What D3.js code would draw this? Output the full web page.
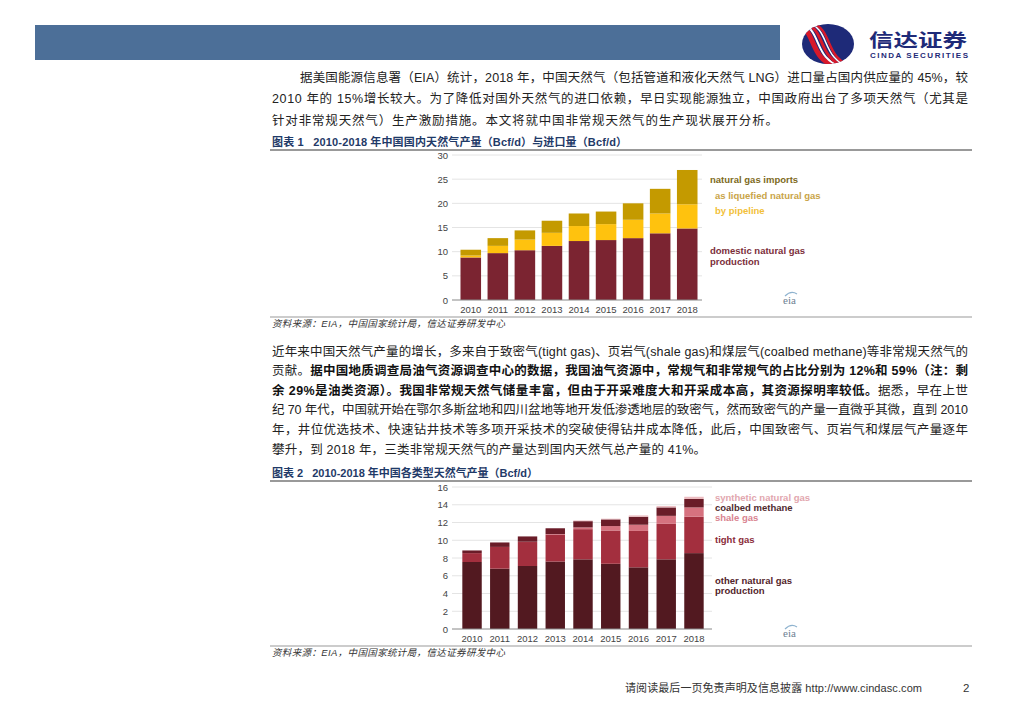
<!DOCTYPE html>
<html>
<head>
<meta charset="UTF-8">
<title></title>
<style>
  body { margin: 0; background: #fff; }
  svg text { font-family: "Liberation Sans", "Noto Sans CJK SC", sans-serif; }
  .para { font-size: 12.5px; fill: #222; }
  .bold { font-weight: bold; fill: #111; }
  .figtitle { font-size: 11px; font-weight: bold; fill: #1f3a68; white-space: pre; }
  .source { font-size: 9.5px; font-style: italic; fill: #333; }
  .tick text, .yr { font-family: "Liberation Sans Narrow", "Liberation Sans", sans-serif; font-size: 9.5px; fill: #444; }
  .leg { font-family: "Liberation Sans Narrow", "Liberation Sans", sans-serif; font-size: 9.5px; font-weight: bold; }
</style>
</head>
<body>
<div id="page"></div>
<script src="https://d3js.org/d3.v7.min.js"></script>
<script>
// chart 1: domestic production and imports, Bcf/d
var years = ['2010', '2011', '2012', '2013', '2014', '2015', '2016', '2017', '2018'];
var domestic = [8.8, 9.7, 10.3, 11.2, 12.2, 12.4, 12.8, 13.8, 14.8];
var pipeline = [0.4, 1.5, 2.2, 2.7, 3.1, 3.3, 3.8, 4.1, 5.0];
var lng = [1.2, 1.6, 1.9, 2.5, 2.6, 2.6, 3.4, 5.1, 7.1];
var ticks1 = [0, 5, 10, 15, 20, 25, 30];

// chart 2: production by type, Bcf/d
var other = [7.55, 6.8, 7.1, 7.6, 7.85, 7.35, 6.95, 7.85, 8.55];
var tight = [1.0, 2.45, 2.7, 3.05, 3.4, 3.75, 4.1, 4.0, 4.1];
var shale = [0, 0, 0.03, 0.05, 0.2, 0.5, 0.7, 0.9, 1.05];
var coalbed = [0.3, 0.5, 0.6, 0.65, 0.7, 0.75, 0.9, 0.95, 0.95];
var synthetic = [0, 0, 0, 0, 0.08, 0.08, 0.15, 0.15, 0.25];
var ticks2 = [0, 2, 4, 6, 8, 10, 12, 14, 16];

var svg = d3.select('#page').append('svg')
    .attr('width', 1024)
    .attr('height', 724);

// header bar + logo
svg.append('rect').attr('x', 35).attr('y', 25).attr('width', 745).attr('height', 35).attr('fill', '#4c6f98');

var logo = svg.append('g');
logo.append('clipPath').attr('id', 'oval')
    .append('ellipse').attr('cx', 828).attr('cy', 44).attr('rx', 26).attr('ry', 20);
logo.append('ellipse').attr('cx', 828).attr('cy', 44).attr('rx', 26).attr('ry', 20).attr('fill', '#1e2a78');
var lg = logo.append('g').attr('clip-path', 'url(#oval)');
[[-6, '#d7192a', 5], [-1, '#fff', 2], [3, '#d7192a', 3], [7, '#fff', 1.5], [10, '#d7192a', 2.5]].forEach(function(s) {
    lg.append('path')
        .attr('d', 'M' + (800 + s[0]) + ',22 C' + (825 + s[0]) + ',30 ' + (812 + s[0]) + ',58 ' + (845 + s[0]) + ',68')
        .attr('fill', 'none').attr('stroke', s[1]).attr('stroke-width', s[2]);
});
svg.append('text').attr('transform', 'translate(869,47) scale(1.36,1)')
    .style('font-family', 'Noto Sans CJK SC').style('font-size', '18px').style('font-weight', 'bold')
    .attr('fill', '#1e2a78').text('信达证券');
svg.append('text').attr('x', 870).attr('y', 58).attr('textLength', 98)
    .style('font-size', '8px').style('font-weight', 'bold').attr('fill', '#1e2a78').text('CINDA SECURITIES');

// paragraph helper: each line is a list of [text, bold]
function line(x, y, w, parts) {
    var t = svg.append('text').attr('class', 'para').attr('x', x).attr('y', y);
    if (w) t.attr('textLength', w).attr('lengthAdjust', 'spacing');
    parts.forEach(function(p) {
        t.append('tspan').attr('class', p[1] ? 'bold' : null).text(p[0]);
    });
}

line(300, 82, 668, [['据美国能源信息署（EIA）统计，2018 年，中国天然气（包括管道和液化天然气 LNG）进口量占国内供应量的 45%，较']]);
line(272, 103, 696, [['2010 年的 15%增长较大。为了降低对国外天然气的进口依赖，早日实现能源独立，中国政府出台了多项天然气（尤其是']]);
line(272, 125, 506, [['针对非常规天然气）生产激励措施。本文将就中国非常规天然气的生产现状展开分析。']]);

line(272, 355.5, 696, [['近年来中国天然气产量的增长，多来自于致密气(tight gas)、页岩气(shale gas)和煤层气(coalbed methane)等非常规天然气的']]);
line(272, 375, 696, [['贡献。', false], ['据中国地质调查局油气资源调查中心的数据，我国油气资源中，常规气和非常规气的占比分别为 12%和 59%（注：剩', true]]);
line(272, 394.5, 696, [['余 29%是油类资源）。我国非常规天然气储量丰富，但由于开采难度大和开采成本高，其资源探明率较低。', true], ['据悉，早在上世', false]]);
line(272, 414, 696, [['纪 70 年代，中国就开始在鄂尔多斯盆地和四川盆地等地开发低渗透地层的致密气，然而致密气的产量一直微乎其微，直到 2010']]);
line(272, 433.5, 696, [['年，井位优选技术、快速钻井技术等多项开采技术的突破使得钻井成本降低，此后，中国致密气、页岩气和煤层气产量逐年']]);
line(272, 453.5, 434, [['攀升，到 2018 年，三类非常规天然气的产量达到国内天然气总产量的 41%。']]);

// figure frame: title, rules, source
function frame(title, titleW, yTitle, yBottom) {
    svg.append('text').attr('class', 'figtitle').attr('x', 272).attr('y', yTitle)
        .attr('textLength', titleW).text(title);
    svg.append('line').attr('x1', 270).attr('x2', 972).attr('y1', yTitle + 4).attr('y2', yTitle + 4)
        .attr('stroke', '#777').attr('stroke-width', 1.5);
    svg.append('line').attr('x1', 270).attr('x2', 972).attr('y1', yBottom).attr('y2', yBottom)
        .attr('stroke', '#999').attr('stroke-width', 1.2);
    svg.append('text').attr('class', 'source').attr('x', 272).attr('y', yBottom + 10)
        .attr('textLength', 233).text('资料来源：EIA，中国国家统计局，信达证券研发中心');
}
frame('图表 1   2010-2018 年中国国内天然气产量（Bcf/d）与进口量（Bcf/d）', 355, 146, 317);
frame('图表 2   2010-2018 年中国各类型天然气产量（Bcf/d）', 266, 477, 646);

function eia(x, y) {
    svg.append('path').attr('d', 'M' + (x + 2) + ',' + (y - 8) + ' q6,-6 12,-2')
        .attr('fill', 'none').attr('stroke', '#8fb3cf').attr('stroke-width', 1.2);
    svg.append('text').attr('x', x).attr('y', y).style('font-family', 'Liberation Serif')
        .style('font-size', '11px').attr('fill', '#6d7f92').text('eia');
}
eia(783, 304);
eia(783, 637);

function stackChart(cfg) {
    var x = d3.scaleBand().domain(years).range(cfg.xr).padding(cfg.pad);
    var y = d3.scaleLinear().domain([0, cfg.max]).range(cfg.yr);
    var g = svg.append('g');

    g.selectAll('.grid').data(cfg.ticks.slice(1)).join('line')
        .attr('x1', cfg.gx[0]).attr('x2', cfg.gx[1])
        .attr('y1', function(d) { return y(d); }).attr('y2', function(d) { return y(d); })
        .attr('stroke', '#e4e4e4');

    var ax = g.append('g').attr('transform', 'translate(' + (cfg.gx[0] - 2) + ',0)')
        .call(d3.axisLeft(y).tickValues(cfg.ticks).tickSize(0).tickPadding(2));
    ax.select('.domain').remove();

    var rows = years.map(function(yr, i) {
        var r = { year: yr };
        cfg.series.forEach(function(s) { r[s.key] = s.values[i]; });
        return r;
    });
    var stack = d3.stack().keys(cfg.series.map(function(s) { return s.key; }))(rows);

    g.selectAll('.layer').data(stack).join('g')
        .attr('fill', function(d, i) { return cfg.series[i].color; })
        .selectAll('rect').data(function(d) { return d; }).join('rect')
        .attr('x', function(d) { return x(d.data.year); })
        .attr('width', x.bandwidth())
        .attr('y', function(d) { return y(d[1]); })
        .attr('height', function(d) { return y(d[0]) - y(d[1]); });

    g.append('line').attr('x1', cfg.gx[0]).attr('x2', cfg.gx[1])
        .attr('y1', y(0)).attr('y2', y(0)).attr('stroke', '#888');

    g.selectAll('.yr').data(years).join('text').attr('class', 'yr')
        .attr('x', function(d) { return x(d) + x.bandwidth() / 2; })
        .attr('y', y(0) + 13).attr('text-anchor', 'middle').text(function(d) { return d; });

    cfg.legend.forEach(function(l) {
        g.append('text').attr('class', 'leg').attr('x', l[1]).attr('y', l[2])
            .attr('fill', l[3]).text(l[0]);
    });
}

stackChart({
    xr: [454, 704], pad: 0.24, yr: [300, 155], max: 30, gx: [452, 702], ticks: ticks1,
    series: [
        { key: 'domestic', values: domestic, color: '#7b2431' },
        { key: 'pipeline', values: pipeline, color: '#ffc20e' },
        { key: 'lng', values: lng, color: '#c49a00' }
    ],
    legend: [
        ['natural gas imports', 710, 183, '#7d6a22'],
        ['as liquefied natural gas', 715, 199, '#c9a448'],
        ['by pipeline', 715, 214, '#f2bf3a'],
        ['domestic natural gas', 710, 254, '#7b2e3a'],
        ['production', 710, 265, '#7b2e3a']
    ]
});

stackChart({
    xr: [454, 712], pad: 0.3, yr: [629, 487], max: 16, gx: [452, 712], ticks: ticks2,
    series: [
        { key: 'other', values: other, color: '#521920' },
        { key: 'tight', values: tight, color: '#a32f3e' },
        { key: 'shale', values: shale, color: '#d6727f' },
        { key: 'coalbed', values: coalbed, color: '#6a1c28' },
        { key: 'synthetic', values: synthetic, color: '#ecbcc1' }
    ],
    legend: [
        ['synthetic natural gas', 715, 501, '#e2a6ae'],
        ['coalbed methane', 715, 511, '#4f2a2e'],
        ['shale gas', 715, 521, '#d98390'],
        ['tight gas', 715, 543, '#8a2b39'],
        ['other natural gas', 715, 584, '#53242a'],
        ['production', 715, 594, '#53242a']
    ]
});

// footer
svg.append('text').attr('x', 625).attr('y', 692).attr('textLength', 297)
    .style('font-size', '11px').attr('fill', '#333')
    .text('请阅读最后一页免责声明及信息披露  http://www.cindasc.com');
svg.append('text').attr('x', 963).attr('y', 692).style('font-size', '11.5px').attr('fill', '#333').text('2');
</script>
</body>
</html>
